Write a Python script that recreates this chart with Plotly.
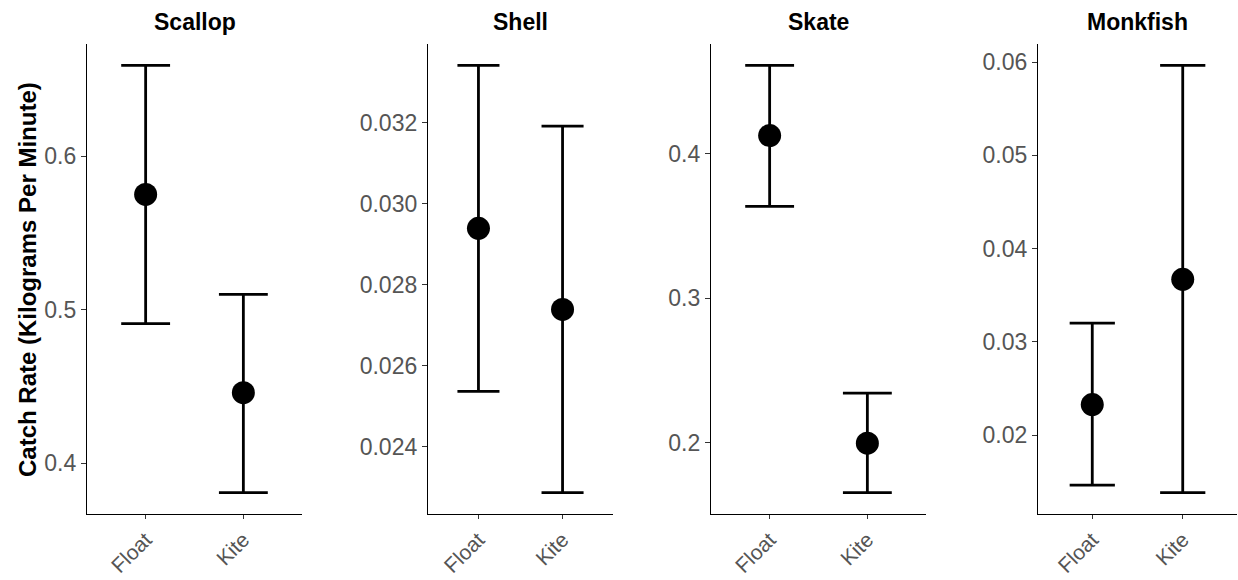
import plotly.graph_objects as go

# Catch rate per minute by gear type, one panel per species
species = ["Scallop", "Shell", "Skate", "Monkfish"]
gears = ["Float", "Kite"]

scallop_mean = [0.575, 0.446]
scallop_lower = [0.491, 0.381]
scallop_upper = [0.659, 0.510]

shell_mean = [0.02939, 0.02739]
shell_lower = [0.02537, 0.02287]
shell_upper = [0.03341, 0.03191]

skate_mean = [0.4124, 0.1995]
skate_lower = [0.3634, 0.1653]
skate_upper = [0.4610, 0.2342]

monkfish_mean = [0.02327, 0.03669]
monkfish_lower = [0.01462, 0.01382]
monkfish_upper = [0.03199, 0.05964]

scallop_ticks = [0.4, 0.5, 0.6]
shell_ticks = [0.024, 0.026, 0.028, 0.030, 0.032]
skate_ticks = [0.2, 0.3, 0.4]
monkfish_ticks = [0.02, 0.03, 0.04, 0.05, 0.06]

panels = [
    (scallop_mean, scallop_lower, scallop_upper, scallop_ticks, ".1f"),
    (shell_mean, shell_lower, shell_upper, shell_ticks, ".3f"),
    (skate_mean, skate_lower, skate_upper, skate_ticks, ".1f"),
    (monkfish_mean, monkfish_lower, monkfish_upper, monkfish_ticks, ".2f"),
]

# page geometry (pixels)
W, H = 1238, 580
left_px = [87, 428, 711, 1038]
right_px = [302, 613, 926, 1237]
top_px, bottom_px = 44, 514

FONT = "Liberation Sans, Arial, sans-serif"
TICK_COLOR = "#555555"
Y_TICK_SIZE = 23
X_TICK_SIZE = 21

fig = go.Figure()
layout = dict(
    width=W, height=H,
    margin=dict(l=0, r=0, t=0, b=0, autoexpand=False),
    paper_bgcolor="white", plot_bgcolor="white",
    showlegend=False,
    font=dict(family=FONT),
)
annotations = []

pos = [1, 2]
for i, (mean, lower, upper, ticks, fmt) in enumerate(panels):
    n = "" if i == 0 else str(i + 1)
    xa, ya = "x" + n, "y" + n
    x0, x1 = left_px[i] / W, right_px[i] / W
    y0, y1 = (H - bottom_px) / H, (H - top_px) / H

    lo_all = min(lower)
    hi_all = max(upper)
    pad = 0.05 * (hi_all - lo_all)
    yrange = [lo_all - pad, hi_all + pad]

    unit_px = (right_px[i] - left_px[i]) / 2.2
    fig.add_trace(go.Scatter(
        x=pos, y=mean, mode="markers",
        xaxis=xa, yaxis=ya,
        marker=dict(size=23, color="black"),
        error_y=dict(
            type="data", symmetric=False,
            array=[u - m for u, m in zip(upper, mean)],
            arrayminus=[m - l for m, l in zip(mean, lower)],
            width=unit_px * 0.25, thickness=2.8, color="black",
        ),
        hoverinfo="skip",
    ))

    layout["xaxis" + n] = dict(
        domain=[x0, x1], anchor=ya, range=[0.4, 2.6],
        tickvals=pos, ticktext=gears, tickangle=-45,
        showline=True, linecolor="black", linewidth=1.3,
        ticks="outside", ticklen=4, tickwidth=1.2, tickcolor="#333333",
        showgrid=False, zeroline=False, automargin=False,
        tickfont=dict(family=FONT, size=X_TICK_SIZE, color=TICK_COLOR),
    )
    layout["yaxis" + n] = dict(
        domain=[y0, y1], anchor=xa, range=yrange,
        tickvals=ticks, tickformat=fmt,
        showline=True, linecolor="black", linewidth=1.3,
        ticks="outside", ticklen=5, tickwidth=1.2, tickcolor="#333333",
        showgrid=False, zeroline=False, automargin=False,
        tickfont=dict(family=FONT, size=Y_TICK_SIZE, color=TICK_COLOR),
    )
    annotations.append(dict(
        text="<b>%s</b>" % species[i], xref="paper", yref="paper",
        x=(x0 + x1) / 2, y=(H - 22) / H, xanchor="center", yanchor="middle",
        showarrow=False, font=dict(family=FONT, size=23, color="black"),
    ))

annotations.append(dict(
    text="<b>Catch Rate (Kilograms Per Minute)</b>", xref="paper", yref="paper",
    x=27 / W, y=(H - 280) / H, xanchor="center", yanchor="middle",
    textangle=-90, showarrow=False,
    font=dict(family=FONT, size=24, color="black"),
))

layout["annotations"] = annotations
fig.update_layout(**layout)
fig.write_html("out.html")
